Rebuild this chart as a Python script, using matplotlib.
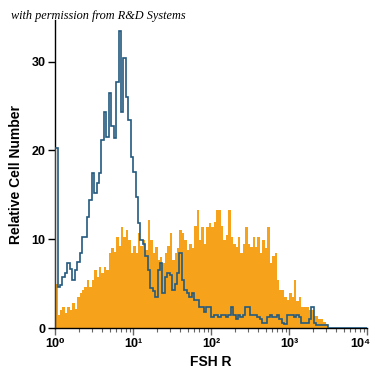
import numpy as np
import matplotlib
matplotlib.use("Agg")
import matplotlib.pyplot as plt
import matplotlib.transforms as mtransforms
from matplotlib.ticker import LogLocator, NullFormatter

# 128 log-spaced channels over 4 decades (32 per decade)
bins_per_decade = 32
n_bins = 128

isotype = [20.3, 4.6, 4.8, 5.8, 6.2, 7.3, 6.6, 5.4, 6.5, 7.5,
           8.5, 10.3, 10.3, 12.5, 14.4, 17.5, 15.2, 16.3, 17.5, 21.2,
           24.3, 21.5, 26.5, 22.7, 21.4, 27.7, 33.4, 24.3, 30.4, 26.0,
           23.4, 19.3, 17.6, 14.8, 11.8, 9.9, 9.5, 8.1, 6.5, 4.5,
           4.2, 3.5, 6.5, 7.3, 3.9, 5.8, 6.2, 6.0, 4.3, 5.0,
           6.2, 8.5, 5.4, 4.3, 3.9, 3.5, 3.9, 3.2, 3.2, 2.4,
           2.4, 1.8, 2.4, 2.4, 1.2, 1.5, 1.5, 1.2, 1.5, 1.5,
           1.2, 1.5, 2.4, 1.5, 1.0, 1.5, 1.2, 1.5, 2.4, 2.4,
           1.5, 1.5, 1.5, 1.2, 1.0, 0.6, 0.6, 1.2, 1.5, 1.2,
           1.2, 1.5, 1.0, 0.6, 0.5, 1.5, 1.5, 1.5, 1.2, 1.5,
           1.2, 0.6, 0.6, 0.6, 1.0, 2.4, 0.6, 0.3, 0.3, 0.3,
           0.3, 0.3, 0.0, 0.0, 0.0, 0.0, 0.0, 0.0, 0.0, 0.0,
           0.0, 0.0, 0.0, 0.0, 0.0, 0.0, 0.0, 0.0]

fshr = [5.0, 1.5, 2.0, 2.4, 1.7, 2.4, 2.0, 2.8, 2.2, 3.5,
        4.0, 4.3, 4.6, 5.4, 4.6, 5.4, 6.5, 5.8, 6.9, 6.2,
        6.9, 6.5, 8.5, 9.0, 8.6, 10.3, 9.2, 11.4, 10.3, 11.0,
        9.9, 8.5, 9.2, 8.5, 10.7, 9.2, 9.9, 8.8, 12.2, 9.9,
        8.5, 9.1, 7.7, 8.0, 7.3, 8.5, 9.2, 10.7, 7.7, 8.5,
        9.0, 11.0, 10.7, 9.9, 8.8, 9.5, 9.0, 11.5, 13.3, 9.9,
        11.4, 9.5, 11.4, 11.8, 11.4, 12.0, 13.3, 13.3, 11.5, 9.9,
        10.5, 13.3, 10.3, 9.5, 9.1, 10.3, 8.5, 9.5, 11.4, 9.5,
        9.1, 10.3, 9.1, 10.3, 8.5, 9.9, 9.0, 11.4, 7.3, 8.1,
        8.5, 5.4, 4.3, 4.3, 3.5, 3.2, 3.9, 3.5, 5.4, 3.0,
        3.5, 2.4, 2.4, 2.4, 2.0, 2.0, 1.4, 1.4, 1.0, 1.0,
        0.7, 0.5, 0.0, 0.0, 0.0, 0.0, 0.0, 0.0, 0.0, 0.0,
        0.0, 0.0, 0.0, 0.0, 0.0, 0.0, 0.0, 0.0]

x_ticks = [1, 10, 100, 1000, 10000]
x_tick_labels = ["10\u2070", "10\u00b9", "10\u00b2", "10\u00b3", "10\u2074"]
y_ticks = [0, 10, 20, 30]

edges = 10 ** (np.arange(n_bins + 1) / bins_per_decade)

fig = plt.figure(figsize=(3.75, 3.75), dpi=100)
ax = fig.add_axes([0.147, 0.125, 0.832, 0.822])

font_list = ['Liberation Sans Narrow', 'Liberation Sans', 'DejaVu Sans']

ax.stairs(fshr, edges, fill=True, color='#F7A21B', linewidth=0, zorder=2)
ax.stairs(isotype, edges, fill=False, color='#245A7E', linewidth=1.2, zorder=3)

ax.set_xscale('log')
ax.set_xlim(1, 10000)
ax.set_ylim(0, 34.7)

ax.set_xticks(x_ticks)
ax.set_xticklabels(x_tick_labels)
ax.xaxis.set_minor_locator(LogLocator(base=10, subs=np.arange(2, 10)))
ax.xaxis.set_minor_formatter(NullFormatter())
ax.set_yticks(y_ticks)

for s in ['top', 'right']:
    ax.spines[s].set_visible(False)
for s in ['left', 'bottom']:
    ax.spines[s].set_linewidth(1.0)
    ax.spines[s].set_color('black')

ax.tick_params(axis='both', which='major', direction='out', length=5, width=1,
               labelsize=9, pad=2)
ax.tick_params(axis='x', which='minor', direction='out', length=3, width=0.8, color='#666666')
ax.tick_params(axis='x', which='major', color='#666666')

for lab in ax.get_yticklabels() + ax.get_xticklabels():
    lab.set_fontfamily(font_list)
    lab.set_fontweight('bold')

# nudge the last x tick label left so it stays inside the figure
last = ax.get_xticklabels()[-1]
last.set_transform(last.get_transform() +
                   mtransforms.ScaledTranslation(-5 / 72, 0, fig.dpi_scale_trans))

ax.set_xlabel('FSH R', fontsize=10, fontweight='bold', family=font_list, labelpad=4)
ax.set_ylabel('Relative Cell Number', fontsize=10, fontweight='bold', family=font_list, labelpad=6)

fig.text(0.03, 0.957, 'with permission from R&D Systems', fontsize=8.8,
         style='italic', family=['Liberation Serif', 'DejaVu Serif'], va='center', ha='left')

fig.savefig('out.png', dpi=100, facecolor='white')
